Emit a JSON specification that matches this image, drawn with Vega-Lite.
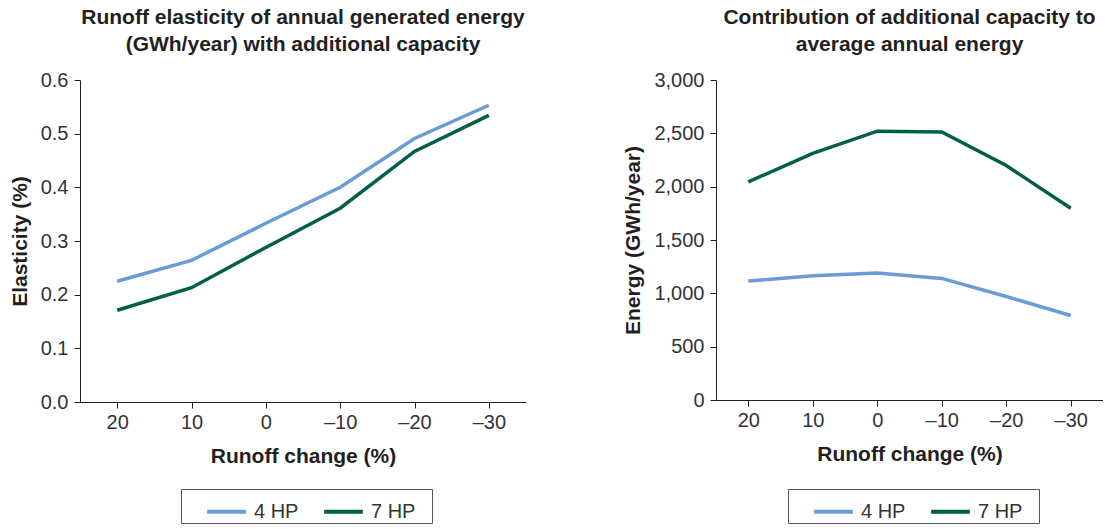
{
  "$schema": "https://vega.github.io/schema/vega-lite/v6.json",
  "background": "white",
  "padding": {"left": 9, "top": 7, "right": 0, "bottom": 0},
  "datasets": {
    "elas": [
      {"runoff": "20", "series": "4 HP", "value": 0.225},
      {"runoff": "10", "series": "4 HP", "value": 0.264},
      {"runoff": "0", "series": "4 HP", "value": 0.333},
      {"runoff": "–10", "series": "4 HP", "value": 0.400},
      {"runoff": "–20", "series": "4 HP", "value": 0.491},
      {"runoff": "–30", "series": "4 HP", "value": 0.553},
      {"runoff": "20", "series": "7 HP", "value": 0.171},
      {"runoff": "10", "series": "7 HP", "value": 0.213},
      {"runoff": "0", "series": "7 HP", "value": 0.288},
      {"runoff": "–10", "series": "7 HP", "value": 0.361},
      {"runoff": "–20", "series": "7 HP", "value": 0.467},
      {"runoff": "–30", "series": "7 HP", "value": 0.534}
    ],
    "energy": [
      {"runoff": "20", "series": "4 HP", "value": 1115},
      {"runoff": "10", "series": "4 HP", "value": 1165},
      {"runoff": "0", "series": "4 HP", "value": 1190},
      {"runoff": "–10", "series": "4 HP", "value": 1140},
      {"runoff": "–20", "series": "4 HP", "value": 970},
      {"runoff": "–30", "series": "4 HP", "value": 792},
      {"runoff": "20", "series": "7 HP", "value": 2045},
      {"runoff": "10", "series": "7 HP", "value": 2312},
      {"runoff": "0", "series": "7 HP", "value": 2520},
      {"runoff": "–10", "series": "7 HP", "value": 2512},
      {"runoff": "–20", "series": "7 HP", "value": 2198},
      {"runoff": "–30", "series": "7 HP", "value": 1797}
    ]
  },
  "hconcat": [
    {
      "width": 446,
      "height": 322,
      "title": {"text": ["Runoff elasticity of annual generated energy", "(GWh/year) with additional capacity"], "offset": 15},
      "data": {"name": "elas"},
      "mark": {"type": "line", "strokeWidth": 3.5},
      "encoding": {
        "x": {"field": "runoff", "type": "ordinal", "sort": null, "scale": {"type": "point", "padding": 0.5}, "title": "Runoff change (%)"},
        "y": {"field": "value", "type": "quantitative", "scale": {"domain": [0, 0.6]}, "axis": {"format": ".1f", "values": [0, 0.1, 0.2, 0.3, 0.4, 0.5, 0.6]}, "title": "Elasticity (%)"},
        "color": {"field": "series", "type": "nominal", "scale": {"domain": ["4 HP", "7 HP"], "range": ["#6A9BD6", "#005E4B"]}, "title": null,
          "legend": {"orient": "none", "legendX": 101, "legendY": 409, "labelExpr": "datum.label == '7 HP' ? datum.label + '\u2800' : datum.label"}}
      }
    },
    {
      "width": 387,
      "height": 320,
      "title": {"text": ["Contribution of additional capacity to", "average annual energy"], "offset": 15},
      "data": {"name": "energy"},
      "mark": {"type": "line", "strokeWidth": 3.5},
      "encoding": {
        "x": {"field": "runoff", "type": "ordinal", "sort": null, "scale": {"type": "point", "padding": 0.5}, "title": "Runoff change (%)"},
        "y": {"field": "value", "type": "quantitative", "scale": {"domain": [0, 3000]}, "axis": {"format": ",.0f", "values": [0, 500, 1000, 1500, 2000, 2500, 3000]}, "title": "Energy (GWh/year)"},
        "color": {"field": "series", "type": "nominal", "scale": {"domain": ["4 HP", "7 HP"], "range": ["#6A9BD6", "#005E4B"]}, "title": null,
          "legend": {"orient": "none", "legendX": 72, "legendY": 409, "labelExpr": "datum.label == '7 HP' ? datum.label + '\u2800' : datum.label"}}
      }
    }
  ],
  "spacing": 96,
  "resolve": {"scale": {"color": "independent"}, "legend": {"color": "independent"}},
  "config": {
    "font": "Liberation Sans",
    "view": {"stroke": null},
    "title": {"fontSize": 21, "fontWeight": "bold", "color": "#231f20", "anchor": "middle", "lineHeight": 27},
    "axis": {
      "grid": false,
      "domainColor": "#231f20",
      "tickColor": "#231f20",
      "tickSize": 6,
      "labelFontSize": 20,
      "labelColor": "#333333",
      "labelPadding": 6,
      "titleFontSize": 21,
      "titleFontWeight": "bold",
      "titleColor": "#231f20"
    },
    "axisX": {"labelAngle": 0, "labelPadding": 4, "titlePadding": 13, "domainExtent": 0},
    "axisY": {"titlePadding": 10},
    "legend": {
      "direction": "horizontal",
      "strokeColor": "#555555",
      "padding": 1,
      "symbolOffset": 23,
      "symbolType": "stroke",
      "symbolStrokeWidth": 4,
      "symbolSize": 1500,
      "labelFontSize": 20,
      "labelColor": "#333333",
      "labelOffset": 6,
      "columnPadding": 0
    }
  }
}
